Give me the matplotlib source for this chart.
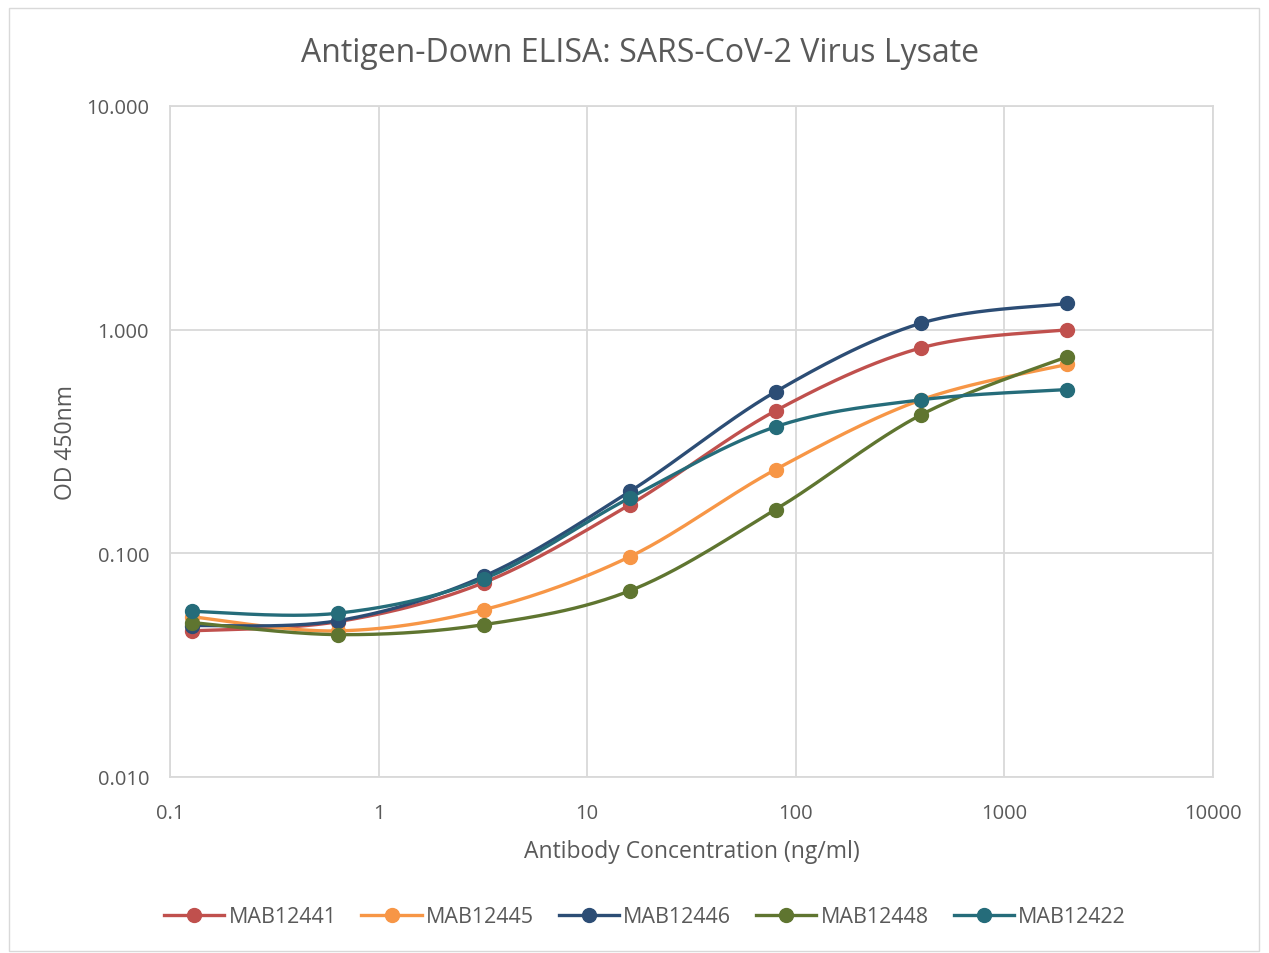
import numpy as np
import matplotlib
matplotlib.use("Agg")
import matplotlib.pyplot as plt
from matplotlib.patches import Rectangle

conc = [0.128, 0.64, 3.2, 16, 80, 400, 2000]
names = ["MAB12441", "MAB12445", "MAB12446", "MAB12448", "MAB12422"]
mab12441 = [0.045, 0.0495, 0.074, 0.165, 0.434, 0.83, 1.0]
mab12445 = [0.052, 0.045, 0.056, 0.0966, 0.237, 0.486, 0.70]
mab12446 = [0.0475, 0.050, 0.079, 0.189, 0.528, 1.07, 1.31]
mab12448 = [0.049, 0.0433, 0.048, 0.068, 0.157, 0.417, 0.757]
mab12422 = [0.055, 0.054, 0.077, 0.177, 0.368, 0.486, 0.54]
series = [mab12441, mab12445, mab12446, mab12448, mab12422]
colors = ["#C0504D", "#F79646", "#2C4D75", "#5F7530", "#256C7A"]

plt.rcParams['font.family'] = ['Open Sans', 'DejaVu Sans']
txt = "#595959"


def smooth(xs, ys, n=30):
    # Catmull-Rom style Bezier smoothing in log-log space (like spreadsheet smoothed lines)
    lx = np.log10(xs); ly = np.log10(ys)
    P = np.column_stack([lx, ly])
    out = []
    m = len(P)
    for i in range(m - 1):
        p0 = P[i - 1] if i > 0 else P[i]
        p1 = P[i]; p2 = P[i + 1]
        p3 = P[i + 2] if i + 2 < m else P[i + 1]
        c1 = p1 + (p2 - p0) / 6.0
        c2 = p2 - (p3 - p1) / 6.0
        t = np.linspace(0, 1, n)[:, None]
        b = (1 - t) ** 3 * p1 + 3 * (1 - t) ** 2 * t * c1 + 3 * (1 - t) * t ** 2 * c2 + t ** 3 * p2
        out.append(b if i == 0 else b[1:])
    B = np.vstack(out)
    return 10 ** B[:, 0], 10 ** B[:, 1]


fig = plt.figure(figsize=(12.69, 9.54), dpi=100)
W, H = 1269, 954
ax = fig.add_axes([170 / W, 1 - 778 / H, (1213 - 170) / W, (778 - 107) / H])

for name, ys, c in zip(names, series, colors):
    sx, sy = smooth(conc, ys)
    ax.plot(sx, sy, color=c, lw=2.4, solid_capstyle='round', zorder=3)
    ax.plot(conc, ys, 'o', color=c, ms=10, zorder=4)
    ax.plot([], [], '-o', color=c, lw=2.4, ms=10, label=name)

ax.set_xscale('log'); ax.set_yscale('log')
ax.set_xlim(0.1, 10000); ax.set_ylim(0.01, 10)
ax.set_xticks([0.1, 1, 10, 100, 1000, 10000])
ax.set_xticklabels(["0.1", "1", "10", "100", "1000", "10000"])
ax.set_yticks([0.01, 0.1, 1, 10])
ax.set_yticklabels(["0.010", "0.100", "1.000", "10.000"])
ax.minorticks_off()
ax.tick_params(axis='x', length=0, labelsize=14.5, colors=txt, pad=19)
ax.tick_params(axis='y', length=0, labelsize=14.5, colors=txt, pad=15)
ax.grid(True, color="#D9D9D9", lw=1.3)
ax.set_axisbelow(True)
for s in ax.spines.values():
    s.set_color("#D9D9D9"); s.set_linewidth(1.3)

ax.set_xlabel("Antibody Concentration (ng/ml)", fontsize=16.5, color=txt, labelpad=11)
ax.set_ylabel("OD 450nm", fontsize=16.5, color=txt, labelpad=6)
fig.text(640 / W, 1 - 54 / H, "Antigen-Down ELISA: SARS-CoV-2 Virus Lysate", ha='center', va='center',
         fontsize=23, color=txt)

fig.legend(loc='center', bbox_to_anchor=(645 / W, 1 - 918 / H), ncol=5, frameon=False,
           fontsize=15.5, labelcolor=txt, handlelength=2.8, columnspacing=1.15, handletextpad=0.2)

fig.patches.append(Rectangle((9 / W, 1 - 952 / H), (1259 - 9) / W, (952 - 9) / H,
                             transform=fig.transFigure, fill=False, edgecolor="#D9D9D9", lw=1))

fig.savefig("out.png", dpi=100)
